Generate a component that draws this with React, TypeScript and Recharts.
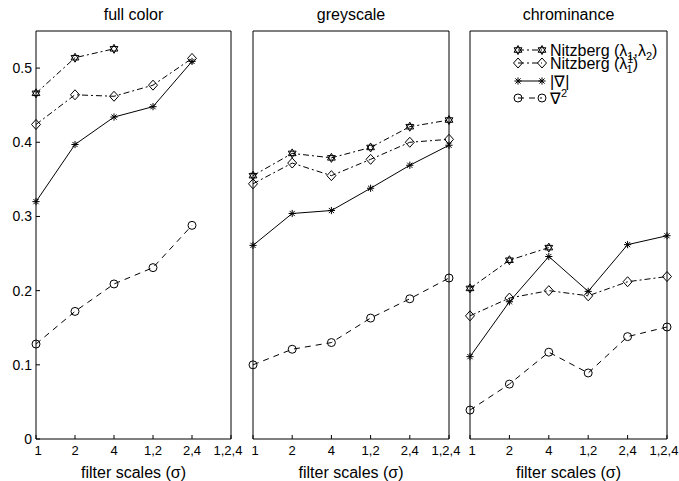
import { LineChart, Line, XAxis, YAxis, Legend } from "recharts";

const SCALES = ["1", "2", "4", "1,2", "2,4", "1,2,4"];
const Y_TICKS = [0, 0.1, 0.2, 0.3, 0.4, 0.5];

// full color
const FULL_N12 = [0.466, 0.514, 0.526, null, null, null];
const FULL_N1 = [0.424, 0.464, 0.462, 0.477, 0.513, null];
const FULL_GRAD = [0.32, 0.397, 0.434, 0.448, 0.509, null];
const FULL_LAP = [0.128, 0.172, 0.209, 0.231, 0.288, null];

// greyscale
const GREY_N12 = [0.355, 0.385, 0.379, 0.393, 0.421, 0.43];
const GREY_N1 = [0.344, 0.372, 0.355, 0.377, 0.4, 0.404];
const GREY_GRAD = [0.261, 0.304, 0.308, 0.338, 0.369, 0.396];
const GREY_LAP = [0.1, 0.121, 0.13, 0.163, 0.189, 0.217];

// chrominance
const CHROMA_N12 = [0.203, 0.241, 0.258, null, null, null];
const CHROMA_N1 = [0.166, 0.19, 0.2, 0.193, 0.212, 0.219];
const CHROMA_GRAD = [0.111, 0.185, 0.246, 0.199, 0.262, 0.274];
const CHROMA_LAP = [0.039, 0.074, 0.117, 0.089, 0.138, 0.151];

type Shape = "hexagram" | "diamond" | "asterisk" | "circle";

const DASH_DOT = "6 3 2 3";
const DASHED = "6 5";

const SERIES: { key: string; shape: Shape; dash?: string }[] = [
  { key: "n12", shape: "hexagram", dash: DASH_DOT },
  { key: "n1", shape: "diamond", dash: DASH_DOT },
  { key: "grad", shape: "asterisk" },
  { key: "lap", shape: "circle", dash: DASHED },
];

const toRows = (n12: (number | null)[], n1: (number | null)[], grad: (number | null)[], lap: (number | null)[]) =>
  SCALES.map((scale, i) => ({ scale, n12: n12[i], n1: n1[i], grad: grad[i], lap: lap[i] }));

function Marker({ shape, cx, cy }: { shape: Shape; cx: number; cy: number }) {
  const common = { fill: "none", stroke: "#000", strokeWidth: 1, strokeDasharray: "none" };
  if (shape === "circle") return <circle cx={cx} cy={cy} r={4} {...common} />;
  if (shape === "diamond") {
    return <path d={`M${cx},${cy - 5}L${cx + 4.5},${cy}L${cx},${cy + 5}L${cx - 4.5},${cy}Z`} {...common} />;
  }
  if (shape === "asterisk") {
    const r = 3.6;
    const d = r * 0.72;
    return (
      <path
        d={`M${cx - r},${cy}H${cx + r}M${cx},${cy - r}V${cy + r}M${cx - d},${cy - d}L${cx + d},${cy + d}M${cx - d},${cy + d}L${cx + d},${cy - d}`}
        {...common}
      />
    );
  }
  // hexagram: two triangles
  const r = 4.5;
  const pt = (deg: number) => {
    const a = (deg * Math.PI) / 180;
    return `${cx + r * Math.cos(a)},${cy + r * Math.sin(a)}`;
  };
  return <path d={`M${pt(-90)}L${pt(30)}L${pt(150)}ZM${pt(90)}L${pt(210)}L${pt(330)}Z`} {...common} />;
}

const dotFor = (shape: Shape) => (p: any) => {
  if (p.value == null || p.cx == null || p.cy == null) return <g key={p.index} />;
  return <Marker key={p.index} shape={shape} cx={p.cx} cy={p.cy} />;
};

// end labels sit slightly inward, as in the original figure
const BottomTick = (p: any) => {
  const shift = p.index === 0 ? 2 : p.index === SCALES.length - 1 ? -3 : 0;
  return (
    <text x={p.x + shift} y={p.y} dy="0.71em" textAnchor="middle" fill="#000" fontSize={13}>
      {p.payload.value}
    </text>
  );
};

const LEGEND_ROW_Y = [10, 23, 41, 58];
const LEGEND_FONT = 16;
const SUB_FONT = 11;

function LegendBox() {
  const labels = [
    <text x={45} y={LEGEND_ROW_Y[0] + 6} fontSize={LEGEND_FONT} fill="#000">
      Nitzberg (λ<tspan dy={4} fontSize={SUB_FONT}>1</tspan>
      <tspan dy={-4}>,λ</tspan>
      <tspan dy={4} fontSize={SUB_FONT}>2</tspan>
      <tspan dy={-4}>)</tspan>
    </text>,
    <text x={45} y={LEGEND_ROW_Y[1] + 6} fontSize={LEGEND_FONT} fill="#000">
      Nitzberg (λ<tspan dy={-6} fontSize={SUB_FONT}>1</tspan>
      <tspan dx={-6.1} dy={10} fontSize={SUB_FONT}>1</tspan>
      <tspan dy={-4}>)</tspan>
    </text>,
    <text x={45} y={LEGEND_ROW_Y[2] + 6} fontSize={LEGEND_FONT} fill="#000">
      |∇|
    </text>,
    <text x={45} y={LEGEND_ROW_Y[3] + 6} fontSize={LEGEND_FONT} fill="#000">
      ∇<tspan dy={-7} fontSize={SUB_FONT}>2</tspan>
    </text>,
  ];
  return (
    <svg width={170} height={68} style={{ display: "block", overflow: "visible" }}>
      {SERIES.map((s, i) => {
        const y = LEGEND_ROW_Y[i];
        return (
          <g key={s.key}>
            <line x1={13} x2={37} y1={y} y2={y} stroke="#000" strokeDasharray={s.dash} />
            <Marker shape={s.shape} cx={13} cy={y} />
            <Marker shape={s.shape} cx={37} cy={y} />
            {labels[i]}
          </g>
        );
      })}
    </svg>
  );
}

interface PanelProps {
  title: string;
  rows: ReturnType<typeof toRows>;
  left: number;
  width: number;
  marginLeft: number;
  marginRight: number;
  showYLabels?: boolean;
  showLegend?: boolean;
}

function Panel({ title, rows, left, width, marginLeft, marginRight, showYLabels, showLegend }: PanelProps) {
  return (
    <div style={{ position: "absolute", left, top: 0 }}>
      <LineChart
        width={width}
        height={481}
        data={rows}
        margin={{ top: 30, right: marginRight, bottom: 0, left: marginLeft }}
      >
        <XAxis
          dataKey="scale"
          interval={0}
          height={42}
          stroke="#000"
          tickSize={-4}
          tickMargin={11}
          tick={BottomTick}
          label={{ value: "filter scales (σ)", position: "insideBottom", offset: 3, fill: "#000", fontSize: 16 }}
        />
        <XAxis
          xAxisId="top"
          orientation="top"
          dataKey="scale"
          interval={0}
          height={1}
          stroke="#000"
          tickSize={-4}
          tick={false}
          label={{ value: title, position: "top", offset: 10, fill: "#000", fontSize: 16 }}
        />
        <YAxis
          type="number"
          domain={[0, 0.55]}
          ticks={Y_TICKS}
          width={showYLabels ? 36 : 1}
          stroke="#000"
          tickSize={-4}
          tickMargin={8}
          tick={showYLabels ? { fill: "#000", fontSize: 14 } : false}
        />
        <YAxis
          yAxisId="right"
          orientation="right"
          type="number"
          domain={[0, 0.55]}
          ticks={Y_TICKS}
          width={1}
          stroke="#000"
          tickSize={-4}
          tick={false}
        />
        {SERIES.map((s) => (
          <Line
            key={s.key}
            dataKey={s.key}
            stroke="#000"
            strokeWidth={1}
            strokeDasharray={s.dash}
            dot={dotFor(s.shape)}
            activeDot={false}
            isAnimationActive={false}
          />
        ))}
        {showLegend && (
          <Legend
            layout="vertical"
            align="center"
            verticalAlign="middle"
            wrapperStyle={{ top: 40, left: 55, width: 170 }}
            content={() => <LegendBox />}
          />
        )}
      </LineChart>
    </div>
  );
}

export default function App() {
  return (
    <div
      style={{
        position: "absolute",
        left: 0,
        top: 0,
        width: 679,
        height: 481,
        overflow: "hidden",
        background: "#fff",
        fontFamily: "'Liberation Sans', Arial, sans-serif",
      }}
    >
      <Panel
        title="full color"
        rows={toRows(FULL_N12, FULL_N1, FULL_GRAD, FULL_LAP)}
        left={0}
        width={250}
        marginLeft={0}
        marginRight={18}
        showYLabels
      />
      <Panel
        title="greyscale"
        rows={toRows(GREY_N12, GREY_N1, GREY_GRAD, GREY_LAP)}
        left={232}
        width={235}
        marginLeft={20}
        marginRight={17}
      />
      <Panel
        title="chrominance"
        rows={toRows(CHROMA_N12, CHROMA_N1, CHROMA_GRAD, CHROMA_LAP)}
        left={450}
        width={229}
        marginLeft={19}
        marginRight={11}
        showLegend
      />
    </div>
  );
}
